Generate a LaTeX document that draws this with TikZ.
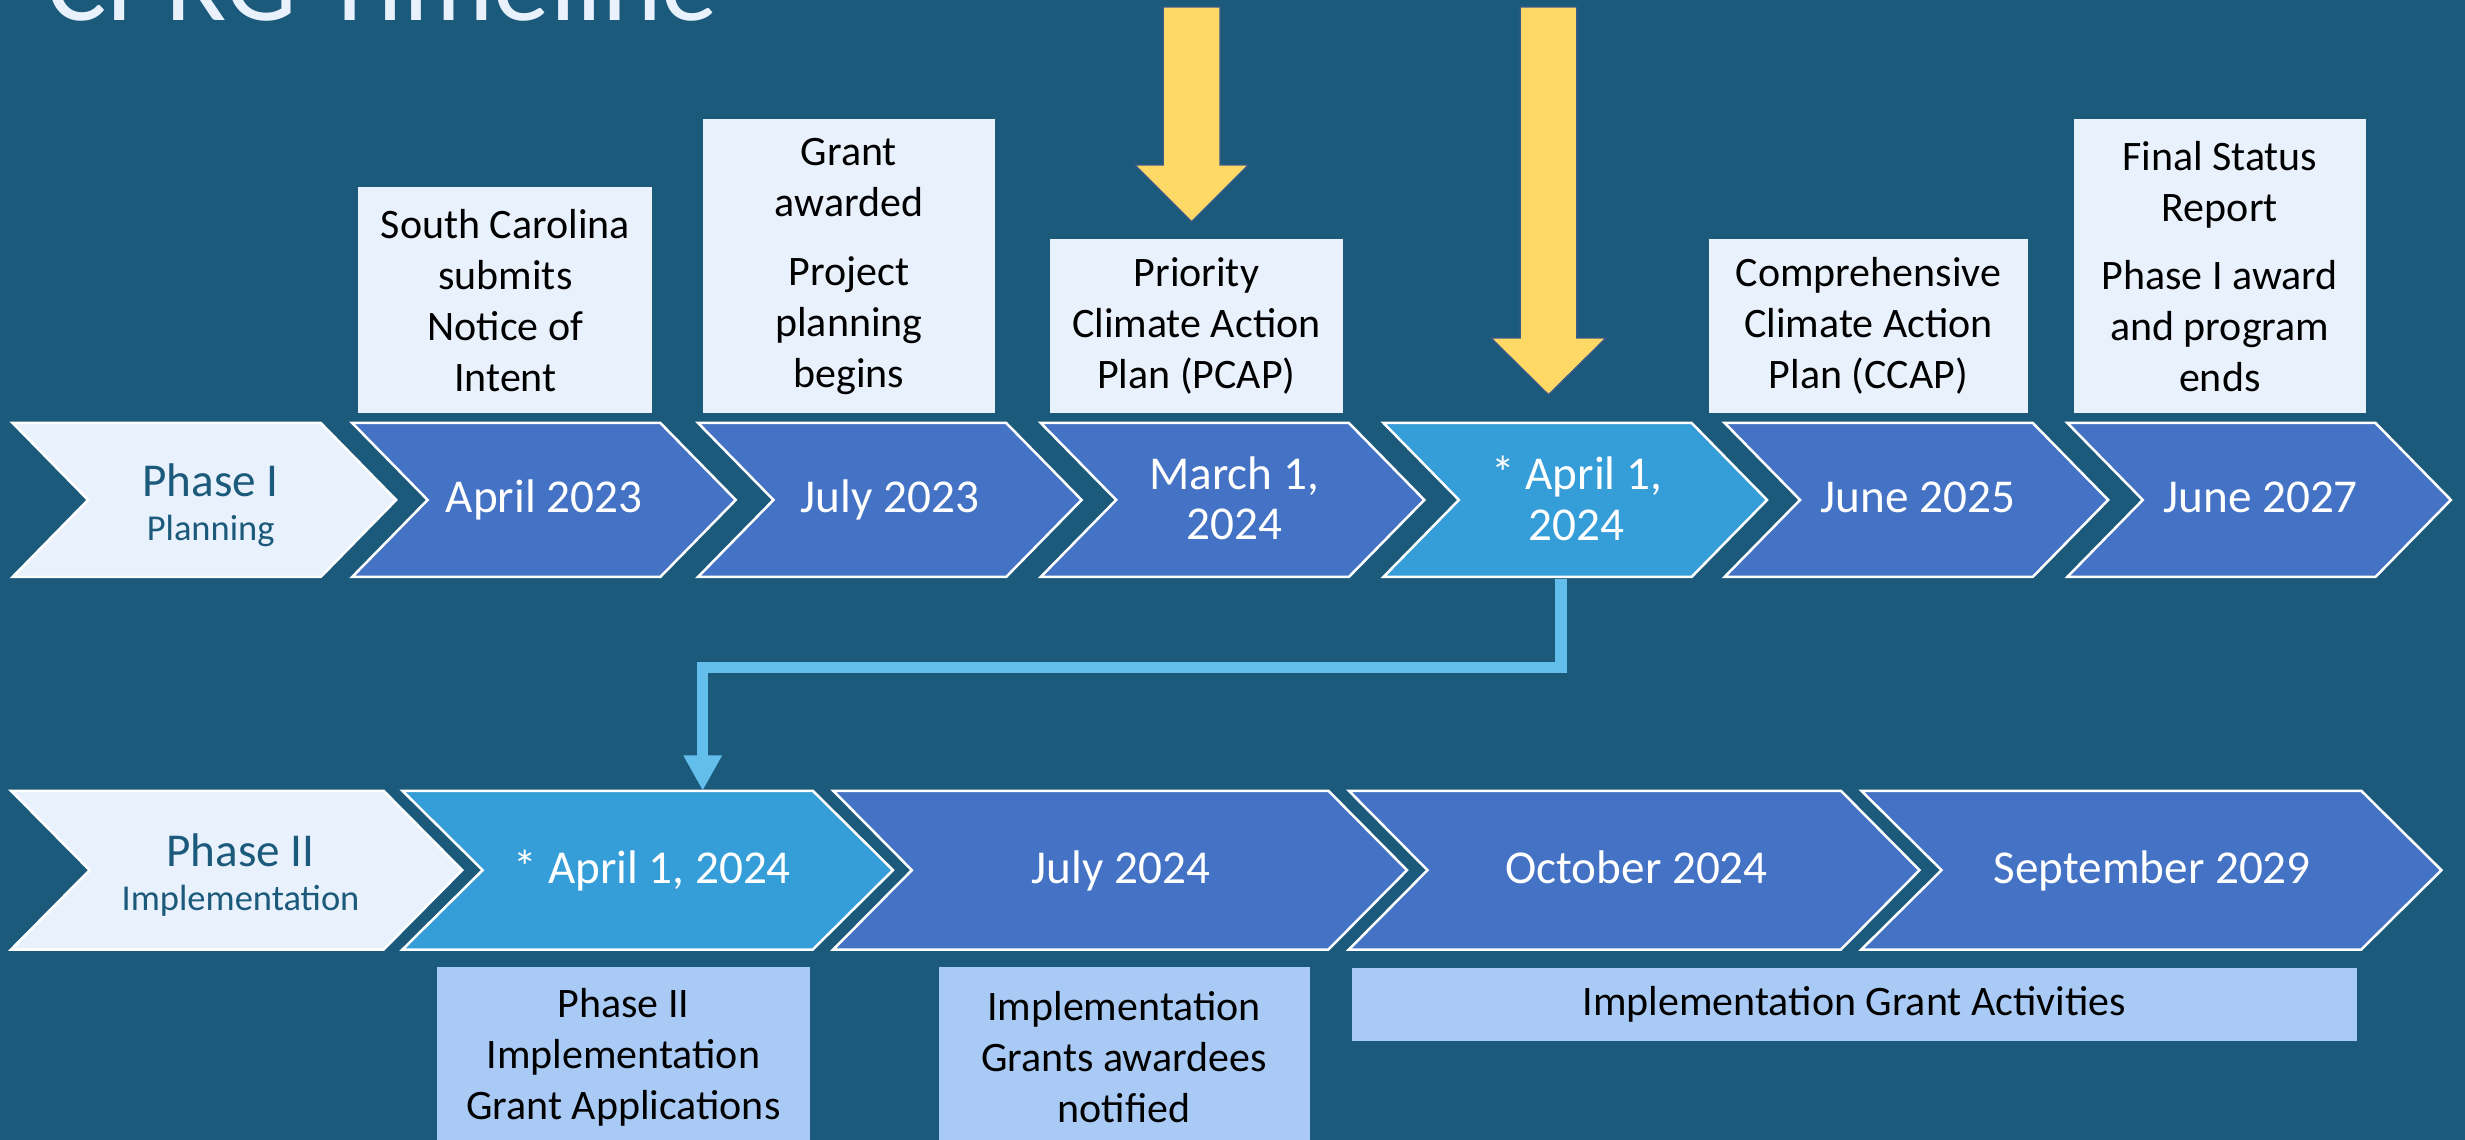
\documentclass[tikz,border=0pt]{standalone}
\usepackage{fontspec}
\setmainfont{Carlito}
\usetikzlibrary{arrows.meta}
\definecolor{bg}{RGB}{27,90,123}
\definecolor{pale}{RGB}{233,241,253}
\definecolor{chev}{RGB}{68,114,196}
\definecolor{hilite}{RGB}{53,157,216}
\definecolor{linkc}{RGB}{99,190,236}
\definecolor{gold}{RGB}{255,217,102}
\definecolor{goldedge}{RGB}{60,90,140}
\definecolor{lowfill}{RGB}{169,202,244}
\newcommand\chevpath[6]{%
  \draw[#1] (#2,#3) -- ++(#4,0) -- ++(#5,#6/2) -- ++(-#5,#6/2) -- ++(-#4,0) -- ++(#5,-#6/2) -- cycle;}
\begin{document}
\begin{tikzpicture}[x=0.5pt,y=-0.5pt,
  chevI/.style={fill=pale,draw=white,line width=0.8pt,line join=miter},
  chevB/.style={fill=chev,draw=white,line width=0.8pt,line join=miter},
  chevH/.style={fill=hilite,draw=white,line width=0.8pt,line join=miter},
  datetxt/.style={text=white,font=\fontsize{15}{16}\selectfont,align=center,inner sep=0pt},
  phasetxt/.style={text=bg,align=center,inner sep=0pt,font=\fontsize{15}{14}\selectfont},
  topbox/.style={fill=pale,inner sep=0pt,align=center,text=black,font=\fontsize{13.35}{16.25}\selectfont},
  lowbox/.style={fill=lowfill,inner sep=0pt,align=center,text=black,font=\fontsize{13.35}{16.25}\selectfont},
  boxsize/.style 2 args={minimum width=#1*0.5pt,minimum height=#2*0.5pt},
  goldarrow/.style={fill=gold,draw=goldedge,line width=0.4pt},
  linkarrow/.style={draw=linkc,line width=3.65pt,line join=miter,-{Triangle[width=11.5pt,length=11.25pt]}}
]
\fill[bg] (0,0) rectangle (1568,725);
\useasboundingbox (0,0) rectangle (1568,725);

% title (cut off at top)
\node[anchor=base west,inner sep=0pt,text=pale,font=\fontsize{36}{40}\selectfont] (title) at (29,13) {CPRG Timeline};

% yellow arrows
\draw[goldarrow] (740,4.5) -- (776,4.5) -- (776,105) -- (794,105) -- (758,141) -- (722,105) -- (740,105) -- cycle;
\draw[goldarrow] (967,4.5) -- (1003,4.5) -- (1003,215) -- (1021.5,215) -- (985,251) -- (948.5,215) -- (967,215) -- cycle;

% top boxes
\node[topbox,boxsize={187}{144}] (n1) at (321.5,191) {South Carolina\\submits\\Notice of\\Intent};
\node[topbox,boxsize={186}{187}] (n2) at (540,169.5) {Grant\\awarded\\[5.5pt]Project\\planning\\begins};
\node[topbox,boxsize={186}{111}] (n3) at (761,207.5) {Priority\\Climate Action\\Plan (PCAP)};
\node[topbox,boxsize={203}{111}] (n4) at (1188.5,207.5) {Comprehensive\\Climate Action\\Plan (CCAP)};
\node[topbox,boxsize={186}{187}] (n5) at (1412,169.5) {Final Status\\Report\\[5.5pt]Phase I award\\and program\\ends};

% top row chevrons
\chevpath{chevI}{8}{269}{196}{48}{98}
\chevpath{chevB}{224}{269}{196}{48}{98}
\chevpath{chevB}{444}{269}{196}{48}{98}
\chevpath{chevB}{662}{269}{196}{48}{98}
\chevpath{chevH}{880}{269}{196}{48}{98}
\chevpath{chevB}{1097}{269}{196}{48}{98}
\chevpath{chevB}{1315}{269}{196}{48}{98}

\node[phasetxt] (ph1) at (134,321.5) {Phase I\\{\fontsize{11.6}{14}\selectfont Planning}};
\node[datetxt,anchor=base] (d1) at (346,326) {April 2023};
\node[datetxt,anchor=base] (d2) at (566,326) {July 2023};
\node[datetxt] (d3) at (785,317) {March 1,\\2024};
\node[datetxt] (d4) at (1003,317) {* April 1,\\2024};
\node[datetxt,anchor=base] (d5) at (1220,326) {June 2025};
\node[datetxt,anchor=base] (d6) at (1438,326) {June 2027};

% bottom row chevrons
\chevpath{chevI}{7}{503}{237}{50}{101}
\chevpath{chevH}{256}{503}{261}{51}{101}
\chevpath{chevB}{530}{503}{315}{50}{101}
\chevpath{chevB}{858}{503}{313}{50}{101}
\chevpath{chevB}{1184}{503}{318}{51}{101}

\node[phasetxt] (ph2) at (153,556.5) {Phase II\\{\fontsize{11.6}{14}\selectfont Implementation}};
\node[datetxt,anchor=base] (e1) at (415,562) {* April 1, 2024};
\node[datetxt,anchor=base] (e2) at (713,562) {July 2024};
\node[datetxt,anchor=base] (e3) at (1041,562) {October 2024};
\node[datetxt,anchor=base] (e4) at (1369,562) {September 2029};

% connector
\coordinate (srcA) at (993,368);
\coordinate (dstA) at (447,503);
\draw[linkarrow] (srcA) -- (993,424.6) -| (dstA);

% bottom boxes
\node[lowbox,boxsize={237}{115}] (m1) at (396.5,672.5) {Phase II\\Implementation\\Grant Applications};
\node[lowbox,boxsize={236}{115}] (m2) at (715,672.5) {Implementation\\Grants awardees\\notified};
\node[lowbox,boxsize={639}{46}] (m3) at (1179.5,639) {Implementation Grant Activities};
\end{tikzpicture}
\end{document}
